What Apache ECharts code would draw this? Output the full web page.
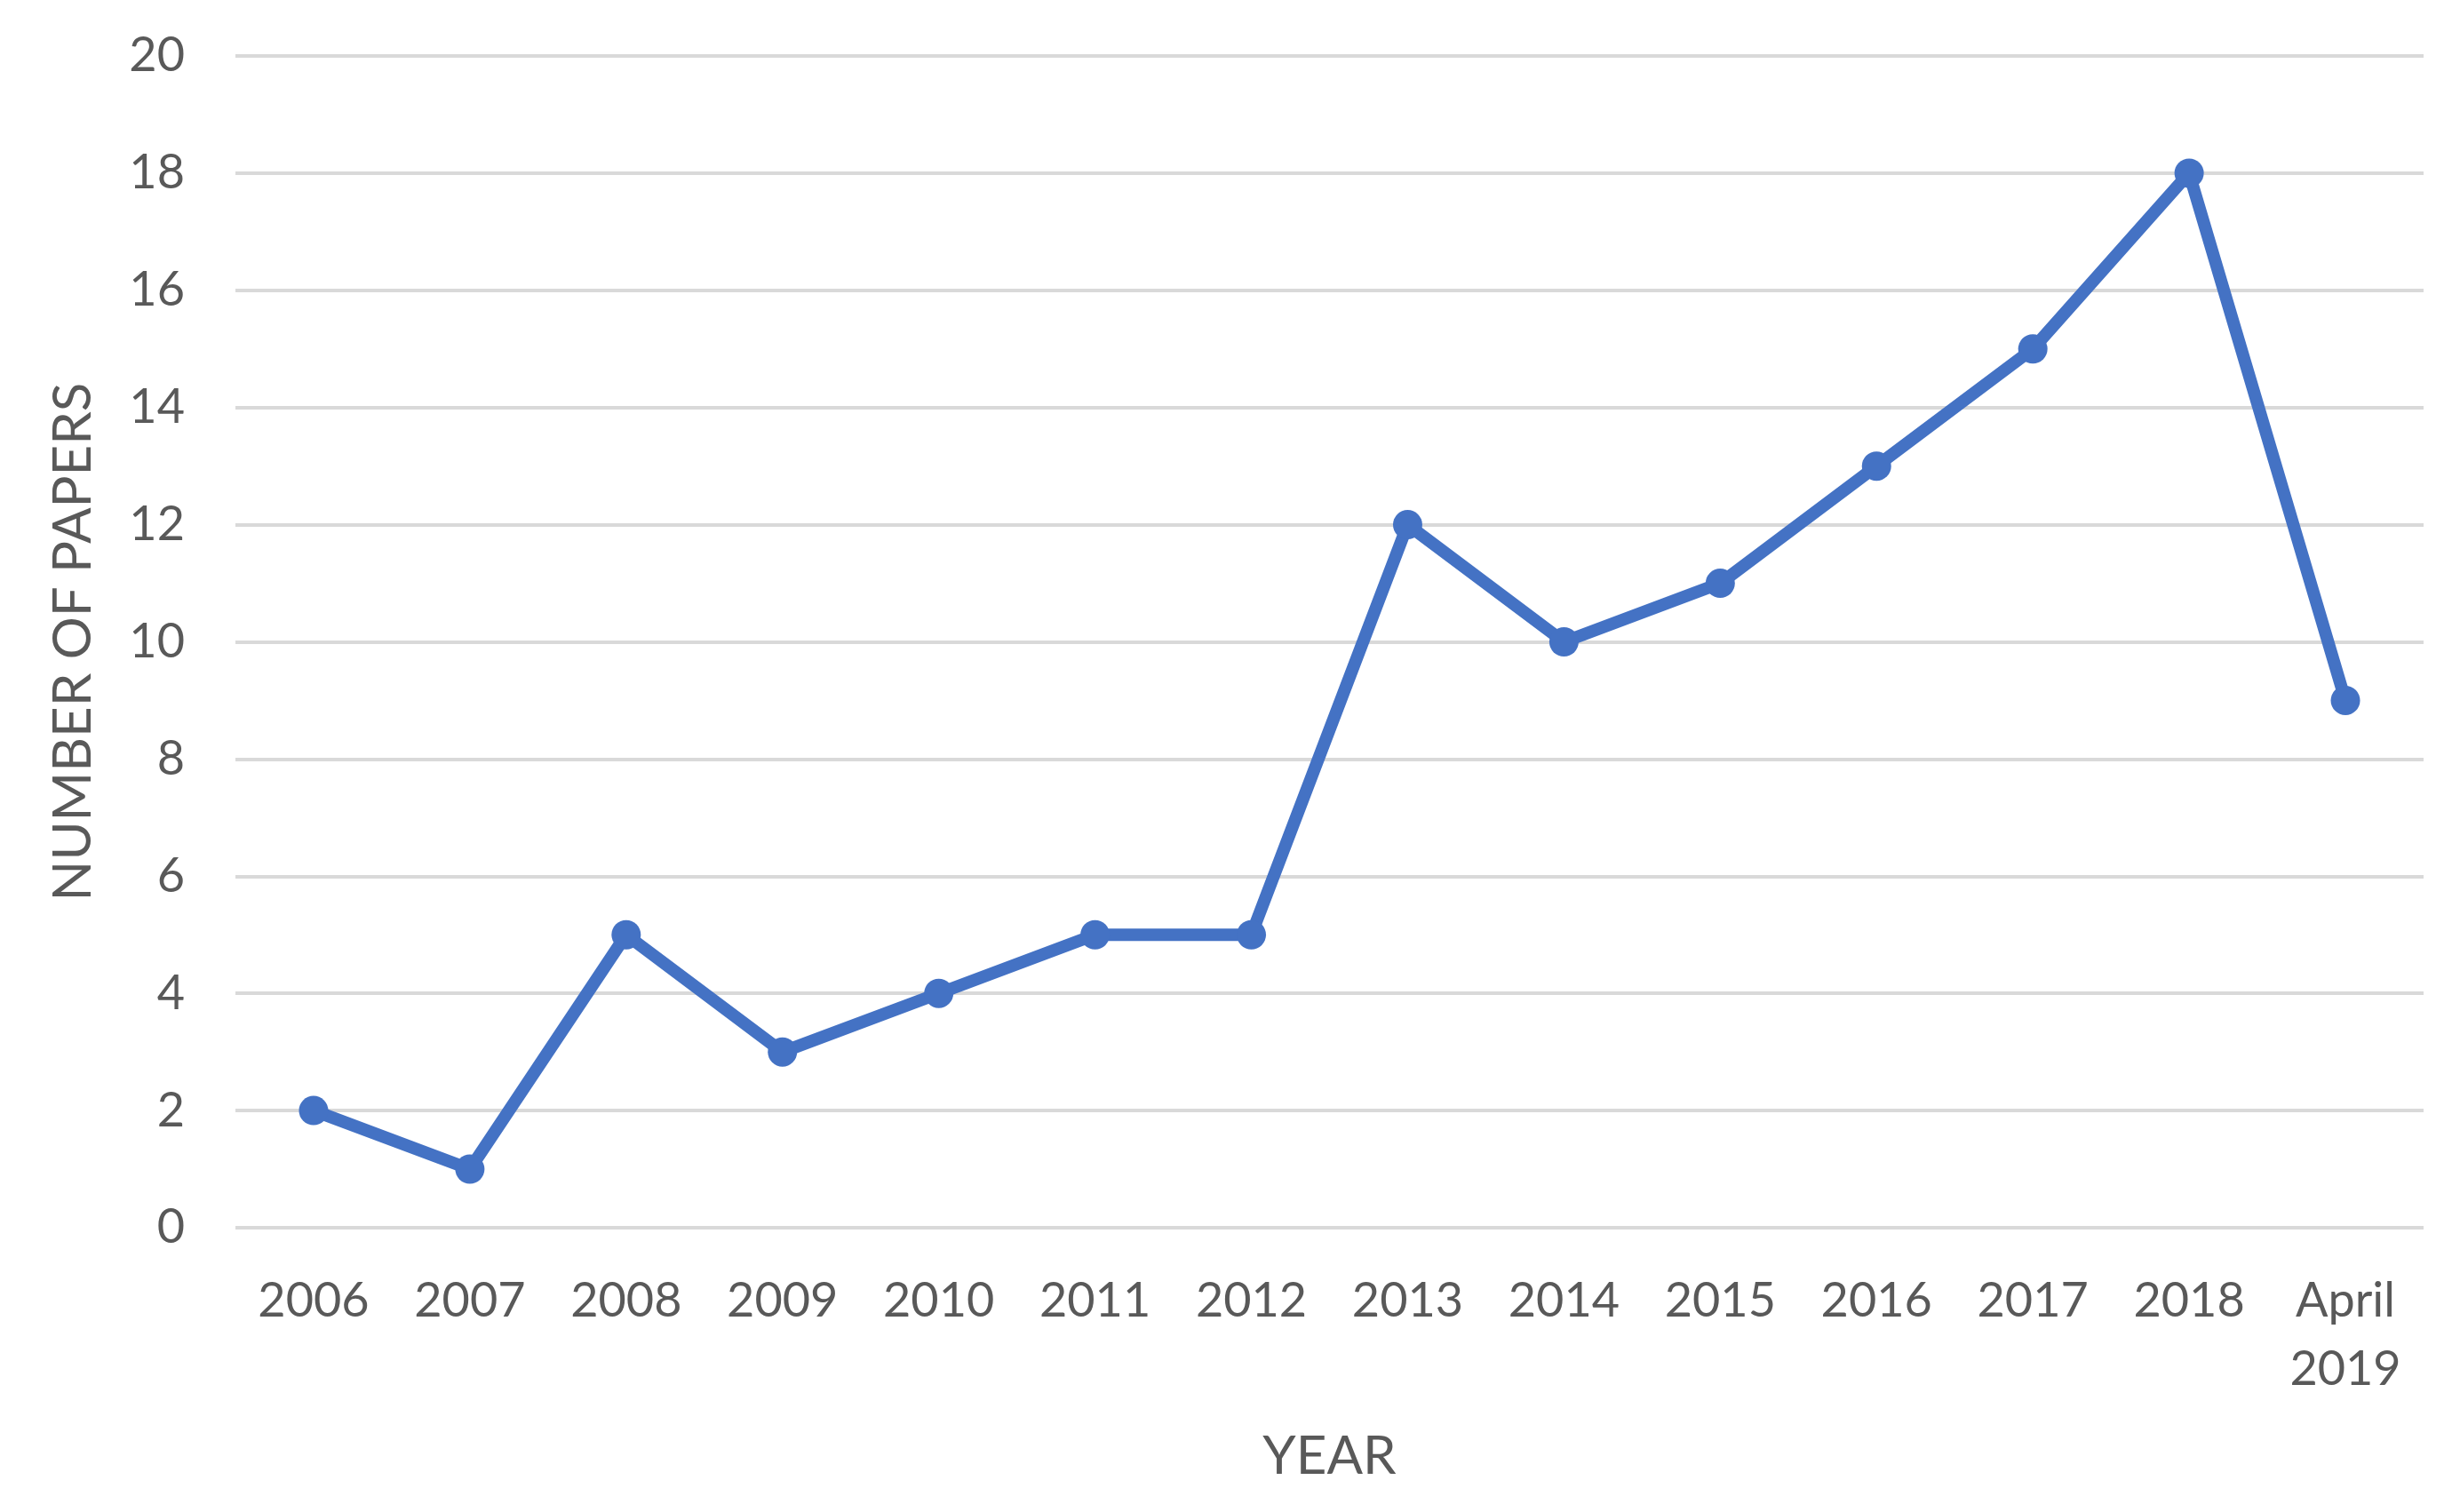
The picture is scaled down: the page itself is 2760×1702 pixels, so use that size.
<!DOCTYPE html>
<html>
<head>
<meta charset="utf-8">
<script src="https://cdn.jsdelivr.net/npm/echarts@6/dist/echarts.min.js"></script>
<style>html,body{margin:0;padding:0;background:#fff}#c{width:2760px;height:1702px}</style>
</head>
<body>
<div id="c"></div>
<script>
const categories = ['2006','2007','2008','2009','2010','2011','2012','2013','2014','2015','2016','2017','2018','April\n2019'];
const papers = [2,1,5,3,4,5,5,12,10,11,13,15,18,9];
const yTicks = [0,20,2];

const FONT = 'Lato';
const TXT = '#595959';
const chart = echarts.init(document.getElementById('c'), null, {renderer:'canvas'});
chart.setOption({
  animation:false,
  backgroundColor:'#ffffff',
  grid:{left:265,right:32,top:63,bottom:320,containLabel:false},
  xAxis:{
    type:'category', data:categories, boundaryGap:true,
    axisLine:{show:false}, axisTick:{show:false},
    axisLabel:{color:TXT,fontFamily:FONT,fontSize:54,margin:44,lineHeight:77,interval:0},
    name:'YEAR', nameLocation:'middle', nameGap:228,
    nameTextStyle:{color:TXT,fontFamily:FONT,fontSize:60}
  },
  yAxis:{
    type:'value', min:yTicks[0], max:yTicks[1], interval:yTicks[2],
    axisLine:{show:false}, axisTick:{show:false},
    axisLabel:{color:TXT,fontFamily:FONT,fontSize:54,margin:57},
    splitLine:{lineStyle:{color:'#d9d9d9',width:4}},
    name:'NUMBER OF PAPERS', nameLocation:'middle', nameGap:152, nameRotate:90,
    nameTextStyle:{color:TXT,fontFamily:FONT,fontSize:60}
  },
  series:[{
    type:'line', data:papers,
    lineStyle:{color:'#4472C4',width:14},
    itemStyle:{color:'#4472C4'},
    symbol:'circle', symbolSize:33, showSymbol:true
  }]
});
</script>
</body>
</html>
